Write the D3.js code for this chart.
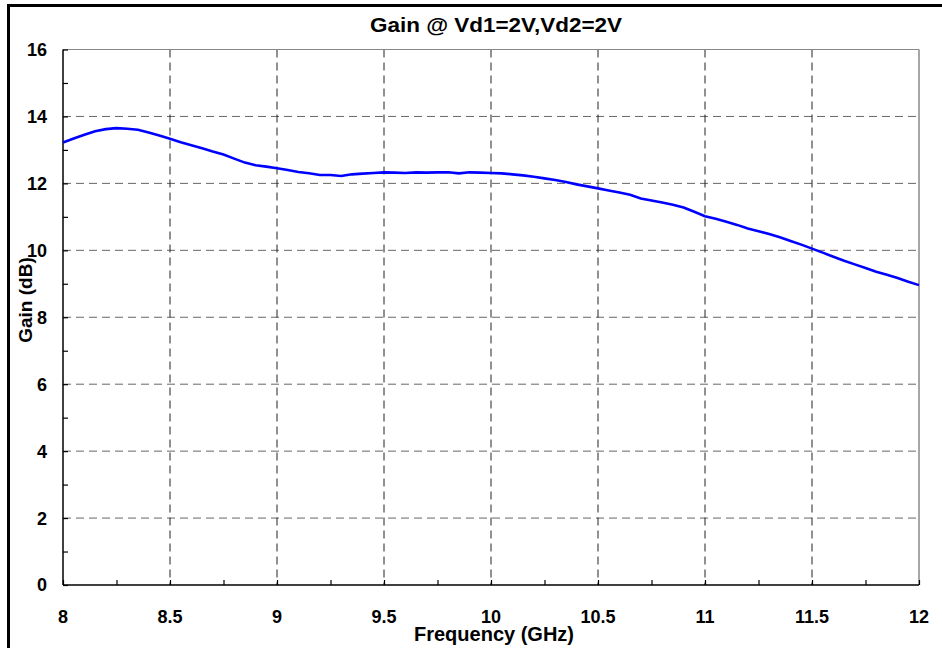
<!DOCTYPE html>
<html><head><meta charset="utf-8">
<script src="https://cdn.jsdelivr.net/npm/d3@7"></script>
<style>
html,body{margin:0;padding:0;background:#fff;}
svg text{font-family:"Liberation Sans",Arial,sans-serif;font-weight:bold;fill:#000;}
</style></head>
<body><svg id="c" width="942" height="648"></svg>
<script>
const titleText = "Gain @ Vd1=2V,Vd2=2V";
const xTitle = "Frequency (GHz)";
const yTitle = "Gain (dB)";
const xTicks = [8, 8.5, 9, 9.5, 10, 10.5, 11, 11.5, 12];
const yTicks = [0, 2, 4, 6, 8, 10, 12, 14, 16];
const freq = [8.0, 8.05, 8.1, 8.15, 8.2, 8.25, 8.3, 8.35, 8.4, 8.45, 8.5, 8.55, 8.6, 8.65, 8.7, 8.75, 8.8, 8.85, 8.9, 8.95,
  9.0, 9.05, 9.1, 9.15, 9.2, 9.25, 9.3, 9.35, 9.4, 9.45, 9.5, 9.55, 9.6, 9.65, 9.7, 9.75, 9.8, 9.85, 9.9, 9.95,
  10.0, 10.05, 10.1, 10.15, 10.2, 10.25, 10.3, 10.35, 10.4, 10.45, 10.5, 10.55, 10.6, 10.65, 10.7, 10.75, 10.8, 10.85, 10.9, 10.95,
  11.0, 11.05, 11.1, 11.15, 11.2, 11.25, 11.3, 11.35, 11.4, 11.45, 11.5, 11.55, 11.6, 11.65, 11.7, 11.75, 11.8, 11.85, 11.9, 11.95, 12.0];
const gain = [13.22, 13.34, 13.45, 13.56, 13.62, 13.65, 13.63, 13.6, 13.52, 13.43, 13.33, 13.23, 13.14, 13.05, 12.95, 12.86, 12.74, 12.62, 12.54, 12.5,
  12.45, 12.4, 12.34, 12.3, 12.25, 12.25, 12.22, 12.27, 12.29, 12.31, 12.33, 12.32, 12.31, 12.33, 12.32, 12.33, 12.33, 12.3, 12.33, 12.32,
  12.31, 12.3, 12.27, 12.24, 12.2, 12.15, 12.1, 12.04, 11.97, 11.91, 11.85, 11.79, 11.73, 11.66, 11.55, 11.49, 11.43, 11.36, 11.28, 11.15,
  11.02, 10.94, 10.85, 10.76, 10.65, 10.57, 10.49, 10.39, 10.28, 10.17, 10.05, 9.93, 9.81, 9.69, 9.58, 9.47, 9.36, 9.27, 9.17, 9.06, 8.96];

const svg = d3.select("#c");
const L = 63, R = 919, T = 49.5, B = 585;
const x = d3.scaleLinear().domain([8, 12]).range([L, R]);
const y = d3.scaleLinear().domain([0, 16]).range([B, T]);

// outer frame (top and left thick black)
svg.append("line").attr("x1", 8.5).attr("x2", 942).attr("y1", 5.5).attr("y2", 5.5).attr("stroke", "#000").attr("stroke-width", 3);
svg.append("line").attr("x1", 8.5).attr("x2", 8.5).attr("y1", 4).attr("y2", 648).attr("stroke", "#000").attr("stroke-width", 3);

// grid
const g = svg.append("g");
g.selectAll(".hg").data(yTicks.filter(d => d > 0 && d < 16)).join("line")
  .attr("x1", L).attr("x2", R).attr("y1", d => y(d)).attr("y2", d => y(d))
  .attr("stroke", "#666").attr("stroke-width", 1).attr("stroke-dasharray", "8,5");
g.selectAll(".vg").data(xTicks.filter(d => d > 8 && d < 12)).join("line")
  .attr("x1", d => x(d)).attr("x2", d => x(d)).attr("y1", T).attr("y2", B)
  .attr("stroke", "#222").attr("stroke-width", 1).attr("stroke-dasharray", "8,5");

// top / right plot borders (gray)
svg.append("line").attr("x1", L).attr("x2", R).attr("y1", T).attr("y2", T).attr("stroke", "#888").attr("stroke-width", 1);
svg.append("line").attr("x1", R).attr("x2", R).attr("y1", T).attr("y2", B).attr("stroke", "#888").attr("stroke-width", 1.5);

// axes with inward ticks
const yMinor = d3.range(0, 16.01, 1);
const xMinor = d3.range(8, 12.001, 0.25);
const yAxis = d3.axisRight(y).tickValues(yMinor).tickSize(5).tickFormat("");
const xAxis = d3.axisTop(x).tickValues(xMinor).tickSize(5).tickFormat("");
const ya = svg.append("g").attr("transform", `translate(${L},0)`).call(yAxis);
const xa = svg.append("g").attr("transform", `translate(0,${B})`).call(xAxis);
[ya, xa].forEach(a => { a.selectAll("path,line").attr("stroke", "#000").attr("stroke-width", 1.2); });
ya.select(".domain").attr("d", `M0,${T}V${B}`).attr("stroke-width", 1.5);
xa.select(".domain").attr("d", `M${L},0H${R}`).attr("stroke-width", 1.5);

// tick labels
svg.append("g").selectAll("text").data(yTicks).join("text")
  .attr("x", 47).attr("y", d => y(d)).attr("dy", "0.36em").attr("text-anchor", "end")
  .attr("font-size", 18).text(d => d);
svg.append("g").selectAll("text").data(xTicks).join("text")
  .attr("x", d => x(d)).attr("y", 623).attr("text-anchor", "middle")
  .attr("font-size", 18).text(d => d);

// titles
svg.append("text").attr("x", 496).attr("y", 32).attr("text-anchor", "middle").attr("font-size", 20)
  .attr("textLength", 252).attr("lengthAdjust", "spacingAndGlyphs").text(titleText);
svg.append("text").attr("x", 494).attr("y", 641).attr("text-anchor", "middle").attr("font-size", 20).text(xTitle);
svg.append("text").attr("transform", "translate(32,300) rotate(-90)").attr("text-anchor", "middle").attr("font-size", 19).text(yTitle);

// curve
svg.append("path").datum(freq.map((f, i) => [f, gain[i]]))
  .attr("fill", "none").attr("stroke", "#0000ff").attr("stroke-width", 2.6)
  .attr("d", d3.line().x(d => x(d[0])).y(d => y(d[1])));
</script></body></html>
